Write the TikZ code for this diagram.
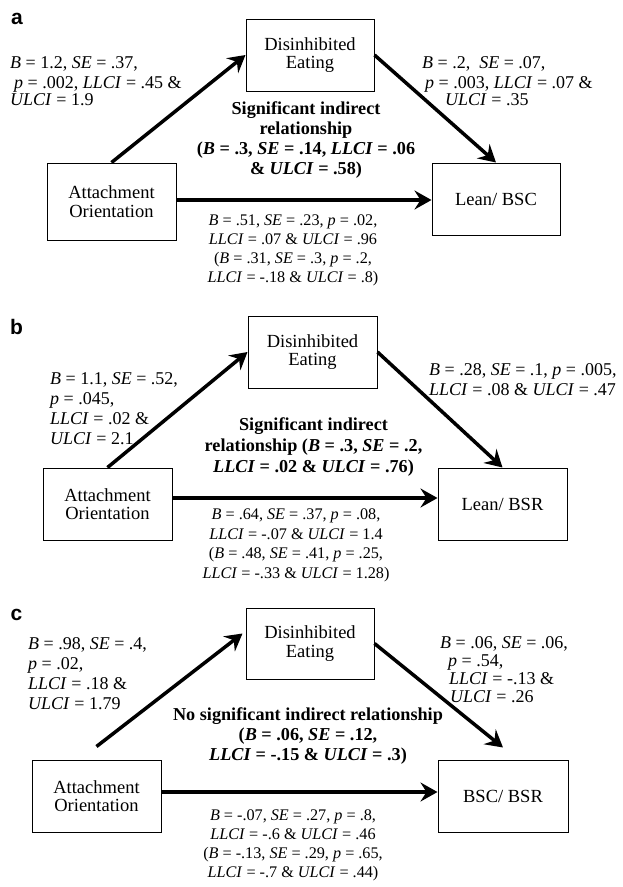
\documentclass[tikz,border=0pt]{standalone}
\usepackage{fontspec}
\setmainfont{Liberation Serif}
\newfontfamily\panelfont{Liberation Sans}
\usetikzlibrary{arrows.meta,calc}
\newcommand{\VarB}{\textit{B}}
\newcommand{\VarSE}{\textit{SE}}
\newcommand{\VarP}{\textit{p}}
\newcommand{\VarLL}{\textit{LLCI}}
\newcommand{\VarUL}{\textit{ULCI}}
\begin{document}
\begin{tikzpicture}[x=1pt,y=-1pt,
  box/.style={draw,line width=1pt,inner sep=0pt,align=center,font=\fontsize{18.5}{18.6}\selectfont},
  conn/.style={line width=3.5pt,-{Stealth[length=17pt,width=19pt,inset=6pt]}},
  side/.style={inner sep=0pt,align=left,anchor=west,font=\fontsize{18}{20}\selectfont},
  ind/.style={inner sep=0pt,align=center,font=\bfseries\fontsize{18.2}{20}\selectfont},
  low/.style={inner sep=0pt,align=center,font=\fontsize{16.2}{19}\selectfont},
  panel/.style={inner sep=0pt,font=\panelfont\bfseries\fontsize{21}{21}\selectfont}]
\useasboundingbox (0,0) rectangle (622,887);

% ---------------- panel a ----------------
\node[panel] (pa) at (17,18.5) {a};
\node[box,minimum width=128pt,minimum height=72pt] (DEa) at (310,55) {Disinhibited\\Eating};
\node[box,minimum width=129pt,minimum height=77pt] (AOa) at (111.5,201.5) {Attachment\\Orientation};
\node[box,minimum width=128pt,minimum height=72pt] (LBa) at (496,199) {Lean/ BSC};
\coordinate (ha) at (0,200);
\draw[conn] (AOa.north) -- (DEa.west);
\draw[conn] (DEa.east) -- (LBa.north);
\draw[conn] (AOa.east |- ha) -- (LBa.west |- ha);
\node[side] (la) at (10,81) {\VarB{} = 1.2, \VarSE{} = .37,\\\hspace*{4pt}\VarP{} = .002, \VarLL{} = .45 \&\\[-3pt]\VarUL{} = 1.9};
\node[side] (ra) at (422,81.5) {\VarB{} = .2,\ \ \VarSE{} = .07,\\\hspace*{3pt}\VarP{} = .003, \VarLL{} = .07 \&\\[-3pt]\hspace*{23pt}\VarUL{} = .35};
\node[ind] (ia) at (306,140) {Significant indirect\\relationship\\(\VarB{} = .3, \VarSE{} = .14, \VarLL{} = .06\\\& \VarUL{} = .58)};
\node[low] (ba) at (293,250) {\VarB{} = .51, \VarSE{} = .23, \VarP{} = .02,\\\VarLL{} = .07 \& \VarUL{} = .96\\(\VarB{} = .31, \VarSE{} = .3, \VarP{} = .2,\\\VarLL{} = -.18 \& \VarUL{} = .8)};

% ---------------- panel b ----------------
\node[panel] (pb) at (16.5,326.5) {b};
\node[box,minimum width=129pt,minimum height=72pt] (DEb) at (312.5,352) {Disinhibited\\Eating};
\node[box,minimum width=129pt,minimum height=72pt] (AOb) at (107.5,504) {Attachment\\Orientation};
\node[box,minimum width=129pt,minimum height=72pt] (LBb) at (502.5,504) {Lean/ BSR};
\coordinate (hb) at (0,498);
\draw[conn] (AOb.north) -- (DEb.west);
\draw[conn] (DEb.east) -- (LBb.north);
\draw[conn] (AOb.east |- hb) -- (LBb.west |- hb);
\node[side] (lb) at (50,408.5) {\VarB{} = 1.1, \VarSE{} = .52,\\\VarP{} = .045,\\\VarLL{} = .02 \&\\\VarUL{} = 2.1};
\node[side] (rb) at (429,380) {\VarB{} = .28, \VarSE{} = .1, \VarP{} = .005,\\\VarLL{} = .08 \& \VarUL{} = .47};
\node[ind,font=\bfseries\fontsize{18.2}{21}\selectfont] (ib) at (313.5,447.5) {Significant indirect\\relationship (\VarB{} = .3, \VarSE{} = .2,\\\VarLL{} = .02 \& \VarUL{} = .76)};
\node[low,font=\fontsize{16.2}{19.5}\selectfont] (bb) at (296,545.5) {\VarB{} = .64, \VarSE{} = .37, \VarP{} = .08,\\\VarLL{} = -.07 \& \VarUL{} = 1.4\\(\VarB{} = .48, \VarSE{} = .41, \VarP{} = .25,\\\VarLL{} = -.33 \& \VarUL{} = 1.28)};

% ---------------- panel c ----------------
\node[panel] (pc) at (16.5,615) {c};
\node[box,minimum width=128pt,minimum height=71pt] (DEc) at (310,643.5) {Disinhibited\\Eating};
\node[box,minimum width=129pt,minimum height=72pt] (AOc) at (96.5,796) {Attachment\\Orientation};
\node[box,minimum width=130pt,minimum height=72pt] (LBc) at (503,796) {BSC/ BSR};
\coordinate (hc) at (0,792);
\draw[conn] ($(AOc.north)+(0,-13)$) -- ($(DEc.west)+(-3,-10)$);
\draw[conn] (DEc.east) -- ($(LBc.north)+(0,-12)$);
\draw[conn] (AOc.east |- hc) -- (LBc.west |- hc);
\node[side] (lc) at (28,674) {\VarB{} = .98, \VarSE{} = .4,\\\VarP{} = .02,\\\VarLL{} = .18 \&\\\VarUL{} = 1.79};
\node[side,font=\fontsize{18}{18}\selectfont] (rc) at (440,670) {\VarB{} = .06, \VarSE{} = .06,\\\hspace*{8pt}\VarP{} = .54,\\\hspace*{9pt}\VarLL{} = -.13 \&\\\hspace*{10pt}\VarUL{} = .26};
\node[ind] (ic) at (308,736.5) {No significant indirect relationship\\(\VarB{} = .06, \VarSE{} = .12,\\\VarLL{} = -.15 \& \VarUL{} = .3)};
\node[low] (bc) at (293,845) {\VarB{} = -.07, \VarSE{} = .27, \VarP{} = .8,\\\VarLL{} = -.6 \& \VarUL{} = .46\\(\VarB{} = -.13, \VarSE{} = .29, \VarP{} = .65,\\\VarLL{} = -.7 \& \VarUL{} = .44)};
\end{tikzpicture}
\end{document}
